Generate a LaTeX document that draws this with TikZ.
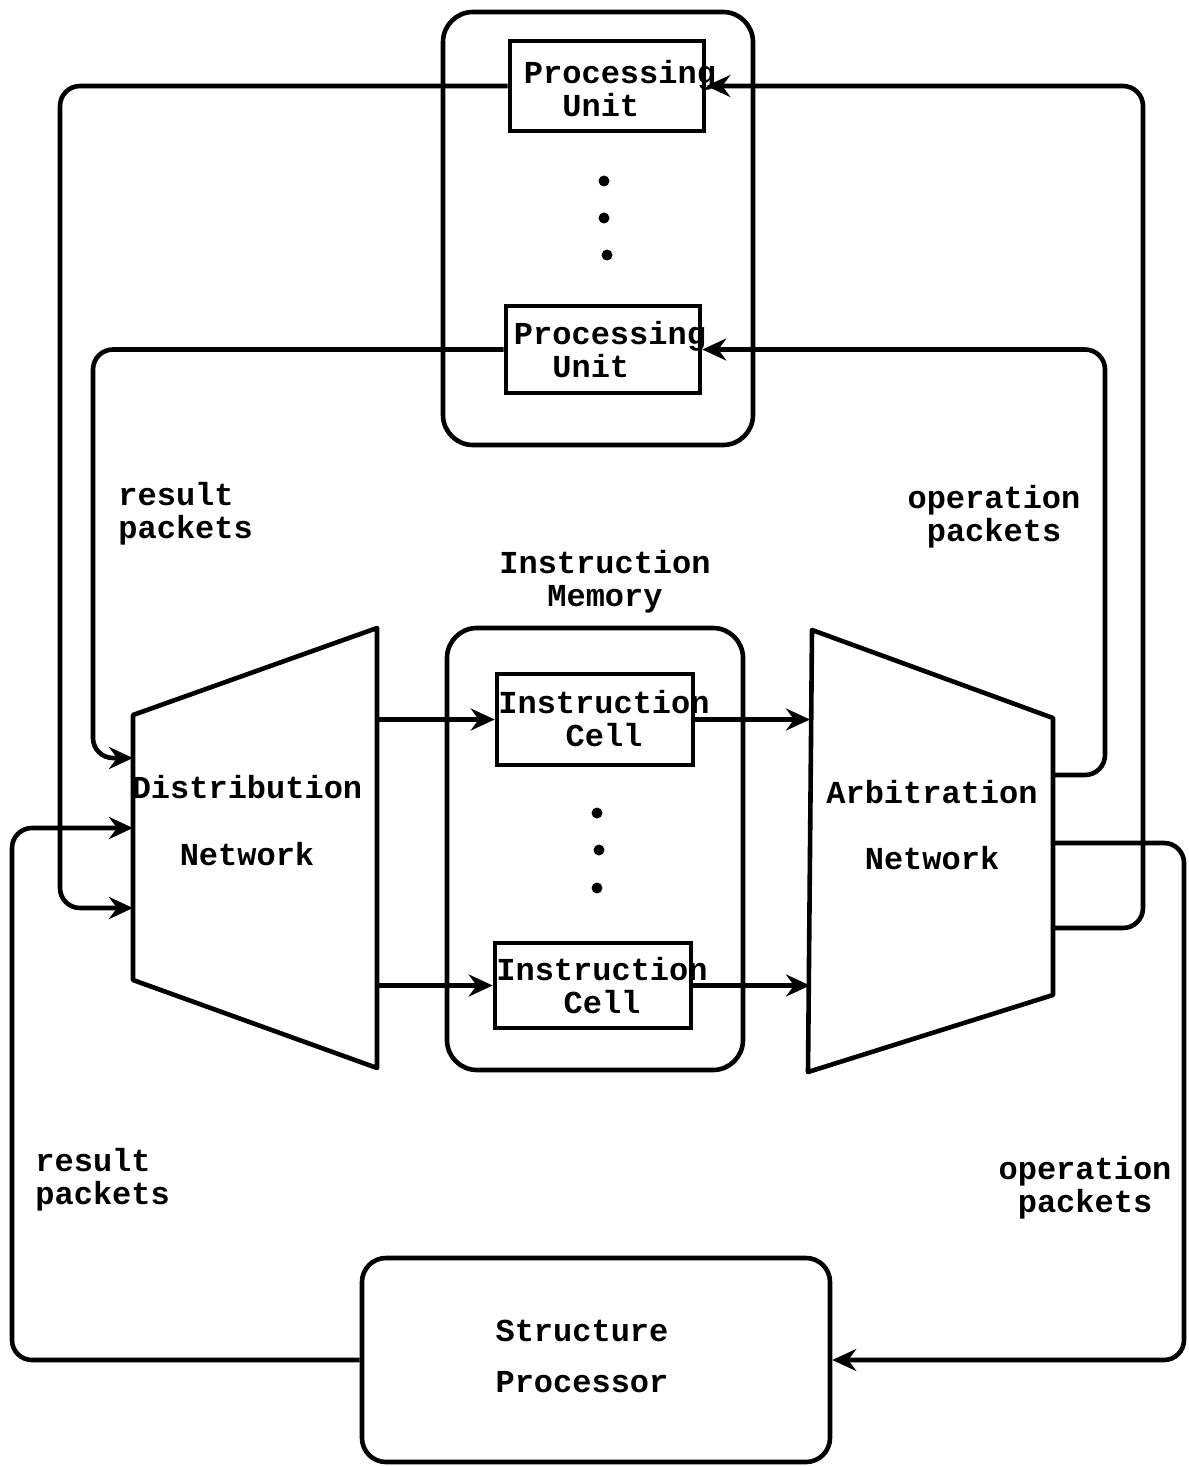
\documentclass[tikz,border=0pt]{standalone}
\usepackage{fontspec}
\setmonofont{Liberation Mono}
\usetikzlibrary{arrows.meta}
\begin{document}
\begin{tikzpicture}[x=0.5pt,y=-0.5pt,
  every node/.style={font=\ttfamily\bfseries\fontsize{16}{16.5}\selectfont},
  ln/.style={line width=2.3pt},
  box/.style={draw,ln,inner sep=0pt,rectangle},
  grp/.style={draw,ln,inner sep=0pt,rectangle,rounded corners=15pt},
  txt/.style={inner sep=0pt,align=center},
  conn/.style={ln,rounded corners=10pt},
  arr/.style={conn,-{Stealth[length=12pt,width=11pt,inset=4pt]}},
  dotc/.style={fill=black,circle,inner sep=0pt,minimum size=5.5pt}]
\useasboundingbox (0,0) rectangle (1188,1466);

% processing units
\node[grp,minimum width=155pt,minimum height=216.5pt] (pugrp) at (598,228.5) {};
\node[box,minimum width=97pt,minimum height=45pt] (pu1) at (607,86) {};
\node[txt,align=left] (pu1t) at (620,89) {Processing\\\ \ Unit};
\node[box,minimum width=97pt,minimum height=43.5pt] (pu2) at (603,349.5) {};
\node[txt,align=left] (pu2t) at (610,350) {Processing\\\ \ Unit};
\node[dotc] (pud1) at (604,181) {};
\node[dotc] (pud2) at (604,218) {};
\node[dotc] (pud3) at (607,255) {};

% instruction memory
\node[txt] (imt) at (605,582) {Instruction\\Memory};
\node[grp,minimum width=148pt,minimum height=221pt] (imgrp) at (595,849) {};
\node[box,minimum width=98pt,minimum height=45.5pt] (ic1) at (595,719.5) {};
\node[txt] (ic1t) at (604,719) {Instruction\\Cell};
\node[box,minimum width=98pt,minimum height=42.5pt] (ic2) at (593,985.5) {};
\node[txt] (ic2t) at (602,986) {Instruction\\Cell};
\node[dotc] (imd1) at (597,813) {};
\node[dotc] (imd2) at (599,850) {};
\node[dotc] (imd3) at (597,888) {};

% distribution network
\coordinate (dnTL) at (133,715);
\coordinate (dnTR) at (377,628);
\coordinate (dnBR) at (377,1068);
\coordinate (dnBL) at (133,980);
\draw[ln,line join=round] (dnTL) -- (dnTR) -- (dnBR) -- (dnBL) -- cycle;
\node[txt] (dnt) at (247,821) {Distribution\\[17pt]Network};
\coordinate (dnR) at (377,0);
\coordinate (dnIn1) at (133,758);
\coordinate (dnIn2) at (133,828);
\coordinate (dnIn3) at (133,908);

% arbitration network
\coordinate (anTL) at (812,630);
\coordinate (anTR) at (1053,718);
\coordinate (anBR) at (1053,995);
\coordinate (anBL) at (808,1072);
\draw[ln,line join=round] (anTL) -- (anTR) -- (anBR) -- (anBL) -- cycle;
\node[txt] (ant) at (932,825) {Arbitration\\[16.5pt]Network};
\coordinate (anL) at (810,0);
\coordinate (anOut1) at (1053,775);
\coordinate (anOut2) at (1053,843);
\coordinate (anOut3) at (1053,928);

% structure processor
\node[box,rounded corners=12pt,minimum width=234pt,minimum height=102pt] (sp) at (596,1360) {};
\node[txt] (spt) at (582,1356) {Structure\\[9pt]Processor};

% labels
\node[txt,align=left,anchor=west] (lr1) at (118,514) {result\\packets};
\node[txt] (lo1) at (994,517) {operation\\packets};
\node[txt,align=left,anchor=west] (lr2) at (35,1180) {result\\packets};
\node[txt] (lo2) at (1085,1188) {operation\\packets};

% internal arrows
\draw[arr] (ic1.west -| dnR) -- (ic1.west);
\draw[arr] (ic2.west -| dnR) -- (ic2.west);
\draw[arr] (ic1.east) -- (ic1.east -| anL);
\draw[arr] (ic2.east) -- (ic2.east -| anL);

% result packets loops
\draw[arr] (pu1.west) -| (60,908) -- (dnIn3);
\draw[arr] (pu2.west) -| (93,758) -- (dnIn1);
\draw[arr] (sp.west) -| (12,828) -- (dnIn2);

% operation packets loops
\draw[arr] (anOut3) -- (1143,928) |- (pu1.east);
\draw[arr] (anOut1) -- (1105,775) |- (pu2.east);
\draw[arr] (anOut2) -- (1184,843) |- (sp.east);
\end{tikzpicture}
\end{document}
